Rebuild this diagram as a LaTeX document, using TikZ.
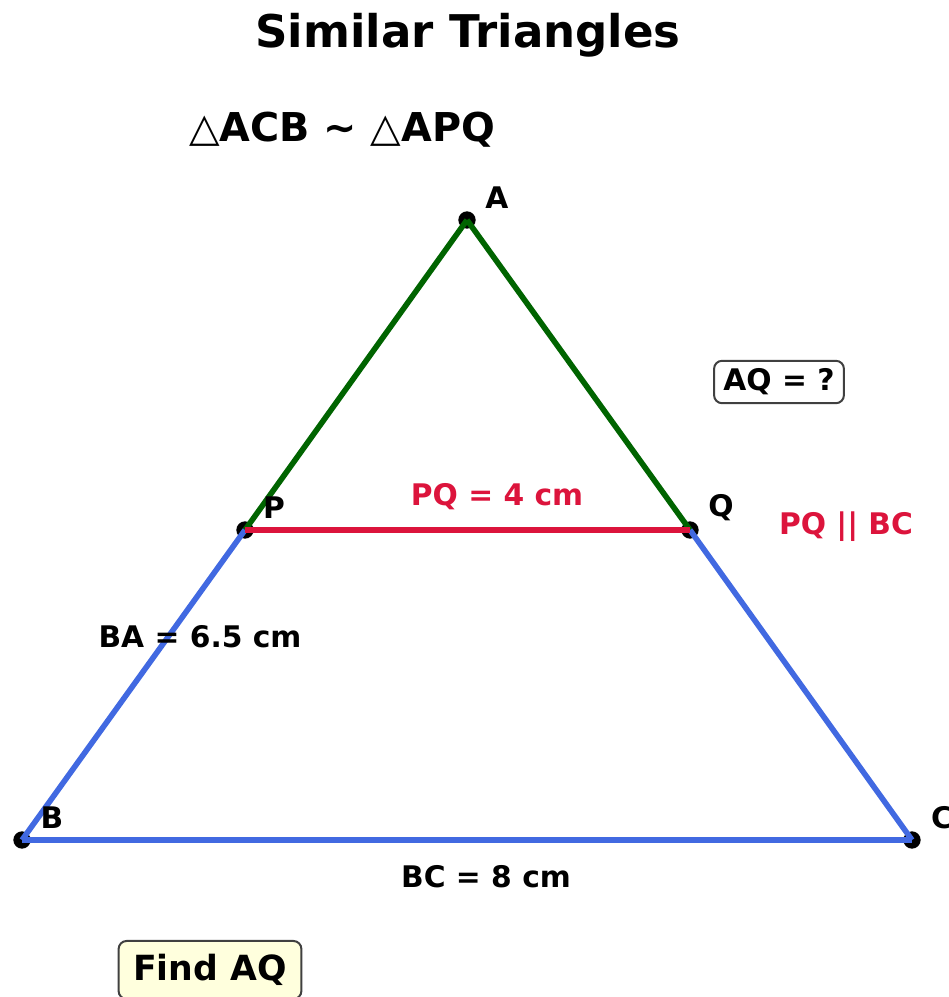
\documentclass[tikz,border=0pt]{standalone}
\usepackage{fontspec}
\setmainfont{DejaVu Sans}
\definecolor{blue}{RGB}{65,105,225}
\definecolor{red}{RGB}{220,20,60}
\definecolor{green}{RGB}{0,100,0}
\definecolor{note}{RGB}{255,255,221}

\begin{document}
\begin{tikzpicture}[x=0.75pt,y=0.75pt,yscale=-1,xscale=1,
  vertex/.style={circle,fill=black,inner sep=0pt,minimum size=13pt},
  side/.style={line width=4.2pt},
  lbl/.style={inner sep=0.75pt,font=\fontsize{22.3}{26}\selectfont\bfseries},
  box/.style={lbl,draw=black!75,line width=1.5pt,rounded corners=6pt,inner xsep=7pt,inner ysep=6pt}]
\useasboundingbox (0,0) rectangle (949,997);

% Vertices
\node (A) at (467,220) [vertex] {};
\node (P) at (245,530) [vertex] {};
\node (Q) at (690,530) [vertex] {};
\node (B) at (22,840) [vertex] {};
\node (C) at (912,840) [vertex] {};

% Sides
\draw [side,green] (A.center) -- (P.center);
\draw [side,green] (A.center) -- (Q.center);
\draw [side,blue] (P.center) -- (B.center);
\draw [side,blue] (Q.center) -- (C.center);
\draw [side,blue] (B.center) -- (C.center);
\draw [side,red] (P.center) -- (Q.center);

% Text Node
\node (title) at (468,35) [inner sep=0.75pt,font=\fontsize{33.8}{40}\selectfont\bfseries] {Similar Triangles};
% Text Node
\node (sim) at (342,130) [inner sep=0.75pt,font=\fontsize{29.8}{35}\selectfont\bfseries] {{\mdseries △}ACB \char`~{} {\mdseries △}APQ};
% Text Node
\node (lA) at (497,198) [lbl] {A};
\node (lP) at (274,508) [lbl] {P};
\node (lQ) at (721,508) [lbl] {Q};
\node (lB) at (52,818) [lbl] {B};
\node (lC) at (942,818) [lbl] {C};
% Text Node
\node (pq) at (497,497) [lbl,text=red] {PQ = 4 cm};
\node (ba) at (200,637) [lbl] {BA = 6.5 cm};
\node (bc) at (486,877) [lbl] {BC = 8 cm};
\node (par) at (846,527) [lbl,text=red] {PQ || BC};
% Text Node
\node (aq) at (779,382) [box,fill=white] {AQ = ?};
\node (find) at (210,970) [box,fill=note,inner xsep=11pt,inner ysep=10pt,font=\fontsize{26}{31}\selectfont\bfseries] {Find AQ};

\end{tikzpicture}
\end{document}
